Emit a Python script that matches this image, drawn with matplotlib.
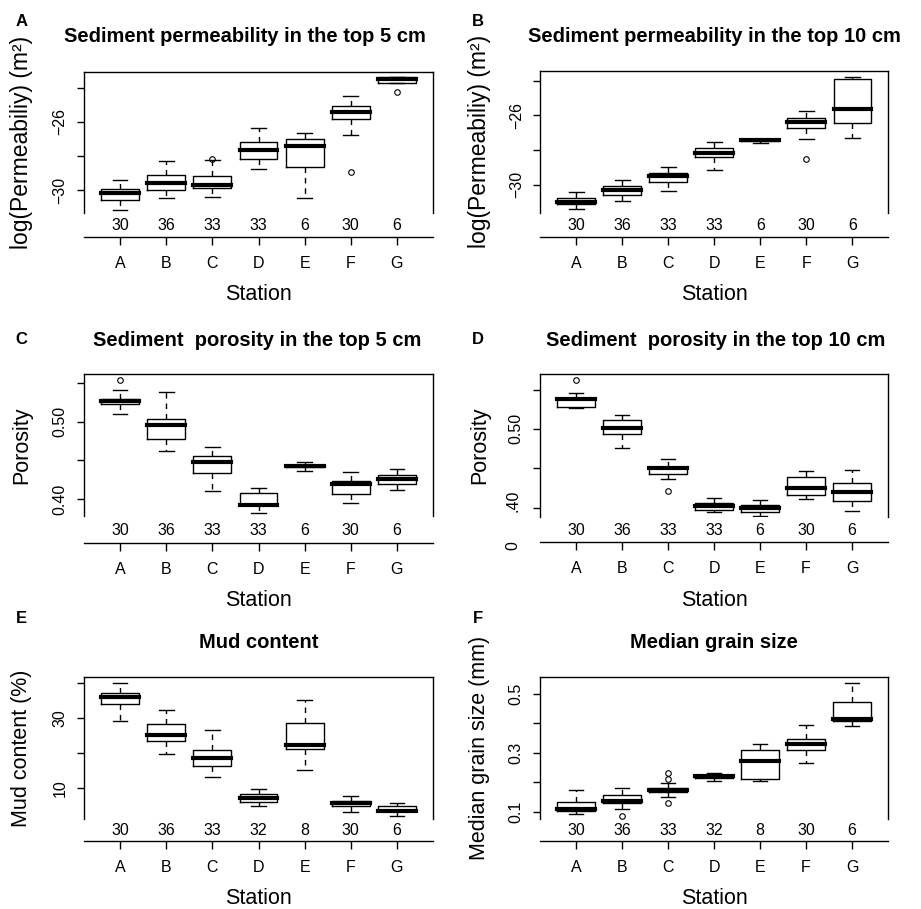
import matplotlib
matplotlib.use("Agg")
import matplotlib.pyplot as plt

plt.rcParams['font.family'] = ['Liberation Sans', 'DejaVu Sans']

W, H = 921, 909
stations = ['A', 'B', 'C', 'D', 'E', 'F', 'G']

# ---- Panel A: permeability top 5 cm ----
a_whishi = [-29.42, -28.29, -28.21, -26.37, -26.66, -24.50, -23.36]
a_q3 = [-29.92, -29.09, -29.18, -27.17, -27.01, -25.05, -23.40]
a_med = [-30.16, -29.57, -29.71, -27.63, -27.42, -25.40, -23.48]
a_q1 = [-30.56, -29.96, -29.83, -28.17, -28.64, -25.86, -23.75]
a_whislo = [-31.13, -30.45, -30.39, -28.74, -30.45, -26.74, -23.75]
a_fliers = [[], [], [-28.16], [], [], [-28.95], [-24.23]]
a_n = [30, 36, 33, 33, 6, 30, 6]

# ---- Panel B: permeability top 10 cm ----
b_whishi = [-30.40, -29.73, -28.96, -27.56, -27.35, -25.75, -23.77]
b_q3 = [-30.79, -30.06, -29.31, -27.88, -27.36, -26.13, -23.92]
b_med = [-30.98, -30.31, -29.52, -28.19, -27.40, -26.38, -25.65]
b_q1 = [-31.13, -30.60, -29.83, -28.42, -27.50, -26.75, -26.46]
b_whislo = [-31.42, -30.92, -30.37, -29.15, -27.58, -27.35, -27.33]
b_fliers = [[], [], [], [], [], [-28.52], []]
b_n = [30, 36, 33, 33, 6, 30, 6]

# ---- Panel C: porosity top 5 cm ----
c_whishi = [0.5408, 0.5378, 0.4670, 0.4150, 0.4476, 0.4352, 0.4395]
c_q3 = [0.5292, 0.5034, 0.4558, 0.4077, 0.4442, 0.4240, 0.4318]
c_med = [0.5262, 0.4953, 0.4485, 0.3927, 0.4429, 0.4197, 0.4266]
c_q1 = [0.5223, 0.4777, 0.4343, 0.3927, 0.4412, 0.4064, 0.4197]
c_whislo = [0.5094, 0.4622, 0.4103, 0.3828, 0.4369, 0.3948, 0.4124]
c_fliers = [[0.5536], [], [], [], [], [], []]
c_n = [30, 36, 33, 33, 6, 30, 6]

# ---- Panel D: porosity top 10 cm ----
d_whishi = [0.5454, 0.5176, 0.4613, 0.4122, 0.4101, 0.4462, 0.4479]
d_q3 = [0.5391, 0.5109, 0.4521, 0.4059, 0.4038, 0.4387, 0.4307]
d_med = [0.5382, 0.5008, 0.4504, 0.4025, 0.3992, 0.4244, 0.4202]
d_q1 = [0.5273, 0.4937, 0.4433, 0.3971, 0.3945, 0.4155, 0.4084]
d_whislo = [0.5265, 0.4756, 0.4370, 0.3945, 0.3893, 0.4109, 0.3954]
d_fliers = [[0.5622], [], [0.4210], [], [], [], []]
d_n = [30, 36, 33, 33, 6, 30, 6]

# ---- Panel E: mud content ----
e_whishi = [39.76, 32.18, 26.40, 9.81, 35.12, 7.63, 5.73]
e_q3 = [37.11, 28.10, 20.81, 8.39, 28.58, 6.30, 4.98]
e_med = [35.88, 25.17, 18.63, 7.25, 22.13, 5.64, 3.55]
e_q1 = [33.79, 23.36, 16.26, 6.02, 21.00, 4.98, 3.36]
e_whislo = [28.96, 19.76, 13.03, 4.88, 15.02, 3.08, 2.13]
e_fliers = [[], [], [], [], [], [], []]
e_n = [30, 36, 33, 32, 8, 30, 6]

# ---- Panel F: median grain size ----
f_whishi = [0.1734, 0.1814, 0.1983, 0.2322, 0.3305, 0.3938, 0.5350]
f_q3 = [0.1339, 0.1576, 0.1814, 0.2243, 0.3102, 0.3475, 0.4718]
f_med = [0.1102, 0.1362, 0.1723, 0.2198, 0.2718, 0.3294, 0.4141]
f_q1 = [0.1034, 0.1305, 0.1678, 0.2153, 0.2107, 0.3090, 0.4073]
f_whislo = [0.0932, 0.1090, 0.1497, 0.2028, 0.2028, 0.2638, 0.3915]
f_fliers = [[], [0.0864], [0.2299, 0.2107, 0.1282], [], [], [], []]
f_n = [30, 36, 33, 32, 8, 30, 6]

PX = 72.0 / 100.0  # points per pixel at dpi 100

fig = plt.figure(figsize=(W / 100, H / 100), dpi=100)


def panel(rect, whislo, q1, med, q3, whishi, fliers, counts, ylim, yticks,
          yticklabels, ylabel, title, title_xy, letter, letter_xy, line_y,
          count_y, ylabel_x, ylabel_size=15.5):
    left, right, top, bottom = rect
    ax = fig.add_axes([left / W, 1 - bottom / H, (right - left) / W, (bottom - top) / H])
    stats = []
    for i in range(len(stations)):
        stats.append(dict(whislo=whislo[i], q1=q1[i], med=med[i], q3=q3[i],
                          whishi=whishi[i], fliers=fliers[i]))
    pos = list(range(1, len(stations) + 1))
    ax.bxp(stats, positions=pos, widths=0.82, capwidths=0.32, showfliers=True,
           manage_ticks=False,
           boxprops=dict(color='black', linewidth=1.0),
           whiskerprops=dict(color='black', linewidth=1.0, linestyle=(0, (4, 3.5))),
           capprops=dict(color='black', linewidth=1.0),
           medianprops=dict(color='black', linewidth=3.0, solid_capstyle='projecting'),
           flierprops=dict(marker='o', markersize=4.0, markerfacecolor='none',
                           markeredgecolor='black', markeredgewidth=0.8))
    ax.set_xlim(0.22, 7.78)
    ax.set_ylim(*ylim)
    for s in ['top', 'left', 'right']:
        ax.spines[s].set_linewidth(1.0)
        ax.spines[s].set_color('black')
    ax.spines['bottom'].set_position(('outward', (line_y - bottom) * PX))
    ax.spines['bottom'].set_linewidth(1.0)
    ax.set_xticks(pos)
    ax.set_xticklabels(stations)
    ax.tick_params(axis='x', length=8 * PX, width=1.0, pad=8.0, labelsize=11.5)
    ax.set_yticks(yticks)
    ax.set_yticklabels(yticklabels, rotation=90, va='center')
    ax.tick_params(axis='y', length=7 * PX, width=1.0, pad=6.8, labelsize=11.5)
    for p, n in zip(pos, counts):
        ax.annotate(str(n), xy=(p, 0), xycoords=('data', 'axes fraction'),
                    xytext=(0, -(count_y - bottom) * PX), textcoords='offset points',
                    ha='center', va='center', fontsize=11.5, annotation_clip=False)
    ax.annotate('Station', xy=(0.5, 0), xycoords='axes fraction',
                xytext=(0, -(line_y + 58 - bottom) * PX), textcoords='offset points',
                ha='center', va='center', fontsize=15.5, annotation_clip=False)
    fig.text(ylabel_x / W, 1 - ((top + bottom) / 2) / H, ylabel, rotation=90,
             ha='center', va='center', fontsize=ylabel_size)
    fig.text(title_xy[0] / W, 1 - title_xy[1] / H, title, ha='center', va='center',
             fontsize=14.5, fontweight='bold')
    fig.text(letter_xy[0] / W, 1 - letter_xy[1] / H, letter, ha='center', va='center',
             fontsize=12, fontweight='bold')
    return ax


panel((84, 433, 72, 212.7), a_whislo, a_q1, a_med, a_q3, a_whishi, a_fliers, a_n,
      (-31.30, -23.09), [-30, -28, -26, -24], ['\u221230', '', '\u221226', ''],
      'log(Permeabiliy) (m\u00b2)', 'Sediment permeability in the top 5 cm', (245, 36),
      'A', (21.5, 21), 237, 225.8, 21.5, 16.5)

panel((540.3, 888.3, 71, 212.7), b_whislo, b_q1, b_med, b_q3, b_whishi, b_fliers, b_n,
      (-31.62, -23.44), [-30, -28, -26, -24], ['\u221230', '', '\u221226', ''],
      'log(Permeabiliy) (m\u00b2)', 'Sediment permeability in the top 10 cm', (714, 36),
      'B', (478, 21), 237, 225.5, 479.5, 16.5)

panel((84, 433, 374.3, 516), c_whislo, c_q1, c_med, c_q3, c_whishi, c_fliers, c_n,
      (0.3785, 0.5609), [0.40, 0.45, 0.50, 0.55], ['0.40', '', '0.50', ''],
      'Porosity', 'Sediment  porosity in the top 5 cm', (256.7, 340),
      'C', (21.5, 339), 542.7, 530.4, 21.5)

axD = panel((540, 888, 374.3, 516.7), d_whislo, d_q1, d_med, d_q3, d_whishi, d_fliers, d_n,
            (0.3885, 0.5693), [0.40, 0.45, 0.50, 0.55], ['', '', '0.50', ''],
            'Porosity', 'Sediment  porosity in the top 10 cm', (716, 340),
            'D', (478, 339), 542.3, 530.8, 479.5)
# split tick label of 0.40 in panel D, as in the original figure
fig.text(513.3 / W, 1 - 500.5 / H, '.40', rotation=90, ha='center', va='center', fontsize=11.5)
fig.text(513.3 / W, 1 - 546 / H, '0', rotation=90, ha='center', va='center', fontsize=11.5)

panel((84, 433, 676.7, 819.3), e_whislo, e_q1, e_med, e_q3, e_whishi, e_fliers, e_n,
      (1.09, 41.66), [10, 20, 30, 40], ['10', '', '30', ''],
      'Mud content (%)', 'Mud content', (259, 642.7),
      'E', (21.5, 618.3), 840.7, 830.8, 21.5)

panel((540, 888, 677.3, 819.3), f_whislo, f_q1, f_med, f_q3, f_whishi, f_fliers, f_n,
      (0.0740, 0.5554), [0.1, 0.2, 0.3, 0.4, 0.5], ['0.1', '', '0.3', '', '0.5'],
      'Median grain size (mm)', 'Median grain size', (714, 642.7),
      'F', (478, 618.3), 841, 830.8, 479.5)

fig.savefig('out.png', dpi=100)
